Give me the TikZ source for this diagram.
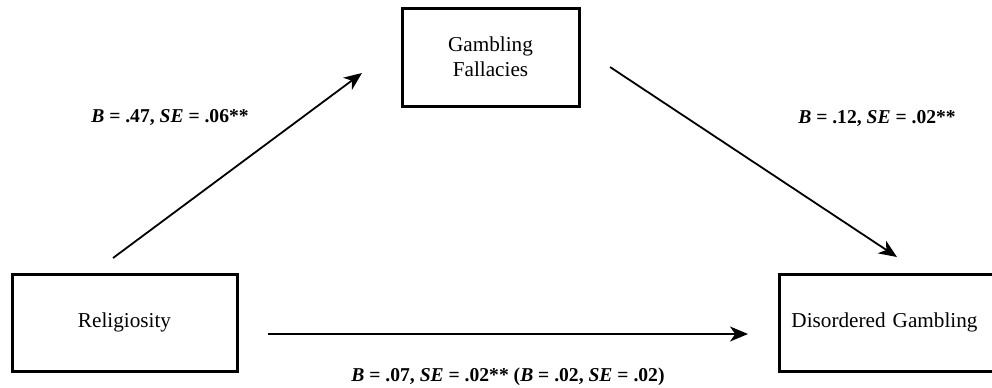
\documentclass[tikz,border=0pt]{standalone}
\usepackage{fontspec}
\setmainfont{Liberation Serif}
\usetikzlibrary{arrows.meta}
\begin{document}
\begin{tikzpicture}[x=0.5pt,y=-0.5pt,
  box/.style={draw, line width=1.5pt, inner sep=0pt, font=\fontsize{10.6}{12.5}\selectfont, align=center},
  path/.style={line width=0.9pt, -{Stealth[length=9pt, width=7.5pt, inset=2.6pt]}},
  coef/.style={font=\fontsize{9.8}{12}\selectfont\bfseries, inner sep=0pt}]
\clip (0,0) rectangle (992,387);
\fill[white] (0,0) rectangle (992,387);
\node[box, minimum width=88.5pt, minimum height=49pt] (gf) at (490.5,57) {Gambling\\Fallacies};
\node[box, minimum width=112.5pt, minimum height=48.5pt] (rel) at (124.5,322.5) {Religiosity};
\node[box, minimum width=110pt, minimum height=48.5pt, text width=100pt] (dg) at (889,322.5) {\hspace*{-4.5pt}Disordered Gambling};
\coordinate (a1s) at (113,258);
\coordinate (a1e) at (362,73);
\coordinate (a2s) at (610,67);
\coordinate (a2e) at (897,257);
\coordinate (a3s) at (268,334);
\coordinate (a3e) at (748,334);
\draw[path] (a1s) -- (a1e);
\draw[path] (a2s) -- (a2e);
\draw[path] (a3s) -- (a3e);
\node[coef] (l1) at (170,117) {\textit{B} = .47, \textit{SE} = .06**};
\node[coef] (l2) at (877,118) {\textit{B} = .12, \textit{SE} = .02**};
\node[coef] (l3) at (508,377) {\textit{B} = .07, \textit{SE} = .02** (\textit{B} = .02, \textit{SE} = .02)};
\end{tikzpicture}
\end{document}
